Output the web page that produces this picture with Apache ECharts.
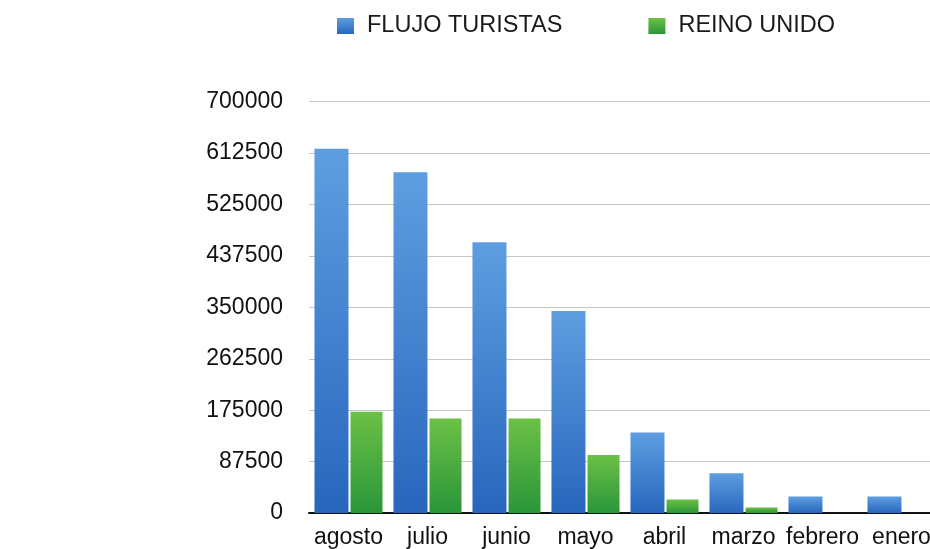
<!DOCTYPE html>
<html>
<head>
<meta charset="utf-8">
<script src="https://cdn.jsdelivr.net/npm/echarts@6/dist/echarts.min.js"></script>
<style>
  html, body { margin: 0; padding: 0; background: #fff; overflow: hidden; }
  /* la grafica original esta recortada por la derecha */
  #chart { width: 942px; height: 549px; }
</style>
</head>
<body>
<div id="chart"></div>
<script type="text/javascript">
  // datos
  var meses = ['agosto', 'julio', 'junio', 'mayo', 'abril', 'marzo', 'febrero', 'enero'];
  var flujoTuristas = [620000, 580000, 461000, 344000, 137000, 67500, 28000, 28000];
  var reinoUnido = [172500, 161000, 161000, 98500, 23000, 9500, 0, 0];
  var ejeMax = 700000;
  var ejePaso = 87500;

  var myChart = echarts.init(document.getElementById('chart'));

  var azul = new echarts.graphic.LinearGradient(0, 0, 0, 1, [
    { offset: 0, color: '#5e9ee0' },
    { offset: 1, color: '#2866bd' }
  ]);
  var verde = new echarts.graphic.LinearGradient(0, 0, 0, 1, [
    { offset: 0, color: '#6cc046' },
    { offset: 1, color: '#2a9639' }
  ]);

  var option = {
    backgroundColor: '#fff',
    animation: false,
    legend: {
      left: 332,
      top: 9,
      itemWidth: 17,
      itemHeight: 16,
      itemGap: 86,
      icon: 'rect',
      textStyle: {
        fontFamily: 'Liberation Sans',
        fontSize: 23.5,
        color: '#1a1a1a',
        padding: [0, 0, 0, 8]
      },
      data: ['FLUJO TURISTAS', 'REINO UNIDO']
    },
    grid: {
      left: 309,
      right: 1,
      top: 101.7,
      bottom: 36,
      containLabel: false
    },
    xAxis: {
      type: 'category',
      data: meses,
      axisTick: { show: false },
      axisLine: { lineStyle: { color: '#111', width: 2 } },
      axisLabel: {
        fontFamily: 'Liberation Sans',
        fontSize: 23,
        color: '#111',
        margin: 13,
        interval: 0
      }
    },
    yAxis: {
      type: 'value',
      min: 0,
      max: ejeMax,
      interval: ejePaso,
      axisLine: { show: false },
      axisTick: { show: false },
      splitLine: { lineStyle: { color: '#c4c4c4', width: 1 } },
      axisLabel: {
        fontFamily: 'Liberation Sans',
        fontSize: 23,
        color: '#111',
        margin: 26,
        formatter: function (v) { return String(v); }
      }
    },
    series: [
      {
        name: 'FLUJO TURISTAS',
        type: 'bar',
        barWidth: 34,
        barGap: '6%',
        itemStyle: { color: azul },
        data: flujoTuristas
      },
      {
        name: 'REINO UNIDO',
        type: 'bar',
        barWidth: 32,
        itemStyle: { color: verde },
        data: reinoUnido
      }
    ]
  };

  myChart.setOption(option);
</script>
</body>
</html>
